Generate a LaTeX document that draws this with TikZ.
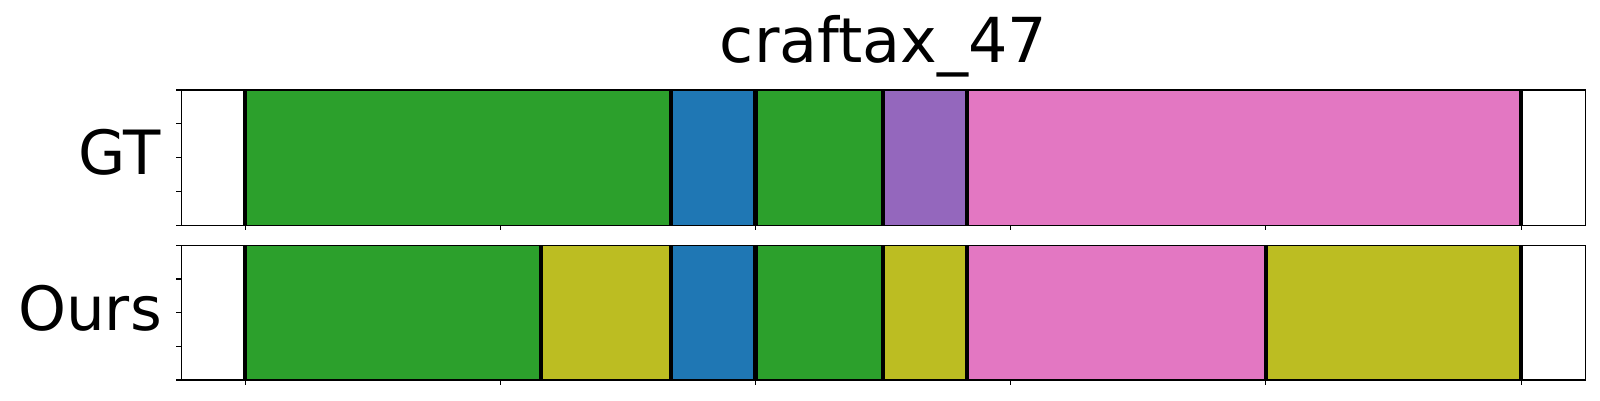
\documentclass[tikz,border=0pt]{standalone}
\usepackage{fontspec}
\setmainfont{DejaVu Sans}
\definecolor{tgreen}{HTML}{2CA02C}
\definecolor{tblue}{HTML}{1F77B4}
\definecolor{tpurple}{HTML}{9467BD}
\definecolor{tpink}{HTML}{E377C2}
\definecolor{tolive}{HTML}{BCBD22}
\tikzset{
  frame/.style={line width=1.11pt, draw=black},
  tickline/.style={line width=1.11pt, draw=black},
  boundary/.style={line width=4.3pt, draw=black},
  titletext/.style={font=\fontsize{62}{62}\selectfont, inner sep=0pt, text=black},
  bigtext/.style={font=\fontsize{61}{61}\selectfont, inner sep=0pt, text=black}
}
\newcommand{\px}[1]{181.3+(#1+25)*2.552}
\begin{document}
\begin{tikzpicture}[x=1pt,y=-1pt]
\useasboundingbox[fill=white] (0,0) rectangle (1600,400);
% GT segments
\foreach \a/\b/\c in {0/167/tgreen,167/200/tblue,200/250/tgreen,250/283/tpurple,283/500/tpink}
  \fill[\c] ({\px{\a}},90) rectangle ({\px{\b}},225.3);
% Ours segments
\foreach \a/\b/\c in {0/116/tgreen,116/167/tolive,167/200/tblue,200/250/tgreen,250/283/tolive,283/400/tpink,400/500/tolive}
  \fill[\c] ({\px{\a}},245.3) rectangle ({\px{\b}},380);
% boundaries
\foreach \a in {0,167,200,250,283,500}
  \draw[boundary] ({\px{\a}},90) -- ({\px{\a}},225.3);
\foreach \a in {0,116,167,200,250,283,400,500}
  \draw[boundary] ({\px{\a}},245.3) -- ({\px{\a}},380);
% frames
\draw[frame] (181.3,90) rectangle (1585.7,225.3);
\draw[frame] (181.3,245.3) rectangle (1585.7,380);
% y ticks
\foreach \y in {0,1,2,3,4} {
  \draw[tickline] (181.3,{90+\y*33.825}) -- (176.4,{90+\y*33.825});
  \draw[tickline] (181.3,{245.3+\y*33.675}) -- (176.4,{245.3+\y*33.675});
}
% x ticks
\foreach \a in {0,100,200,300,400,500} {
  \draw[tickline] ({\px{\a}},225.3) -- ({\px{\a}},230.2);
  \draw[tickline] ({\px{\a}},380) -- ({\px{\a}},384.9);
}
% texts
\node[titletext, anchor=base] (title) at (883.5,62.3) {craftax\_47};
\node[bigtext, anchor=base east] (gt) at (161,174.7) {GT};
\node[bigtext, anchor=base east] (ours) at (162,330.5) {Ours};
\end{tikzpicture}
\end{document}
